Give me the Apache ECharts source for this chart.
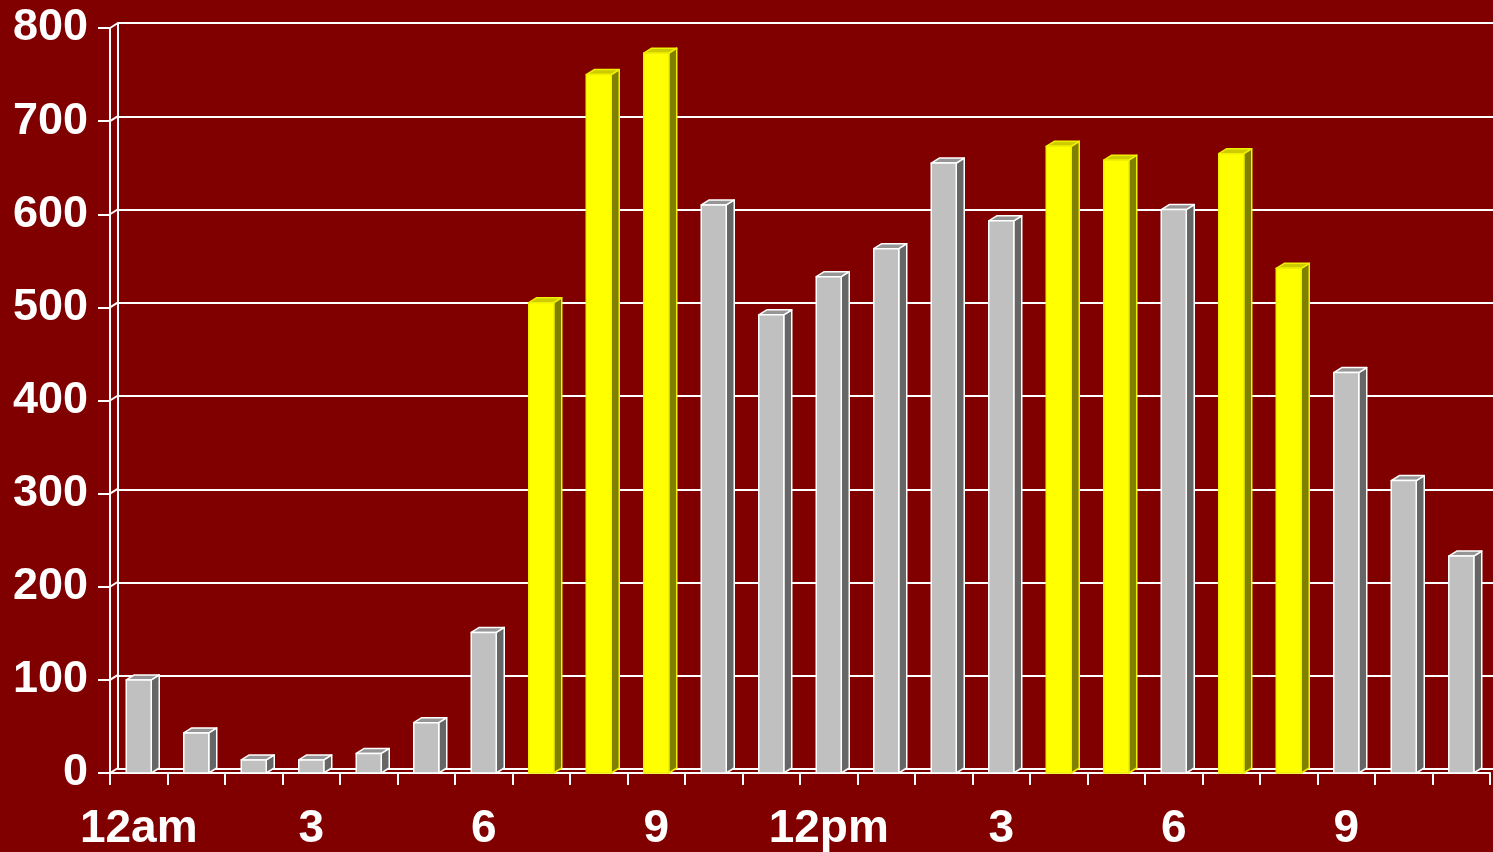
<!DOCTYPE html>
<html>
<head>
<meta charset="utf-8">
<script src="https://cdn.jsdelivr.net/npm/echarts@6/dist/echarts.min.js"></script>
<style>
  html, body { margin: 0; padding: 0; background: #800000; }
  #chart { width: 1493px; height: 852px; }
</style>
</head>
<body>
<div id="chart"></div>
<script>
// hourly counts, 12am .. 11pm
var hours = ['0', '1', '2', '3', '4', '5', '6', '7', '8', '9', '10', '11',
             '12', '13', '14', '15', '16', '17', '18', '19', '20', '21', '22', '23'];
var hourLabels = ['12am', '', '', '3', '', '', '6', '', '', '9', '', '',
                  '12pm', '', '', '3', '', '', '6', '', '', '9', '', ''];
var counts = [100, 43, 14, 14, 21, 54, 151, 505, 750, 773, 610, 492,
              533, 563, 655, 593, 673, 658, 605, 665, 542, 430, 314, 233];
// 1 = yellow (peak) bar
var peak = [0, 0, 0, 0, 0, 0, 0, 1, 1, 1, 0, 0,
            0, 0, 0, 0, 1, 1, 0, 1, 1, 0, 0, 0];
var yTicks = [0, 100, 200, 300, 400, 500, 600, 700, 800];

var DX = 8, DY = -5;   // depth offset of the 3d look
var BAR_W = 25;

var gray = { front: '#c0c0c0', top: '#969696', side: '#666666', line: '#ffffff' };
var yellow = { front: '#ffff00', top: '#cccc00', side: '#808000', line: '#f0f000' };

var chart = echarts.init(document.getElementById('chart'));

function renderBar(params, api) {
    var i = api.value(0);
    var top = api.coord([i, api.value(1)]);
    var base = api.coord([i, 0]);
    var c = peak[i] ? yellow : gray;
    var l = top[0] - BAR_W / 2, r = top[0] + BAR_W / 2;
    var t = top[1], b = base[1];
    var stroke = { stroke: c.line, lineWidth: 1.5, lineJoin: 'round' };
    return {
        type: 'group',
        children: [
            {
                type: 'polygon',
                shape: { points: [[r, t], [r + DX, t + DY], [r + DX, b + DY], [r, b]] },
                style: Object.assign({ fill: c.side }, stroke)
            },
            {
                type: 'polygon',
                shape: { points: [[l, t], [l + DX, t + DY], [r + DX, t + DY], [r, t]] },
                style: Object.assign({ fill: c.top }, stroke)
            },
            {
                type: 'rect',
                shape: { x: l, y: t, width: BAR_W, height: b - t },
                style: Object.assign({ fill: c.front }, stroke)
            }
        ]
    };
}

// little diagonals joining the front axis to the back wall
function renderConnector(params, api) {
    var p = api.coord([0, api.value(0)]);
    var x0 = params.coordSys.x;
    return {
        type: 'line',
        shape: { x1: x0, y1: p[1], x2: x0 + DX, y2: p[1] + DY },
        style: { stroke: '#ffffff', lineWidth: 2 }
    };
}

var option = {
    backgroundColor: '#800000',
    animation: false,
    grid: [
        { left: 110, right: 3, top: 28, bottom: 78 },
        { left: 110 + DX, right: 0, top: 28 + DY, bottom: 78 - DY }
    ],
    xAxis: [
        {
            type: 'category',
            gridIndex: 0,
            data: hours,
            axisLine: { lineStyle: { color: '#ffffff', width: 2 } },
            axisTick: { show: true, interval: 0, length: 12, lineStyle: { color: '#ffffff', width: 2 } },
            axisLabel: {
                interval: 0,
                margin: 33,
                color: '#ffffff',
                fontFamily: 'Liberation Sans, Arial, sans-serif',
                fontWeight: 'bold',
                fontSize: 46,
                formatter: function (v, idx) { return hourLabels[idx]; }
            }
        },
        {
            type: 'category',
            gridIndex: 1,
            data: hours,
            show: false
        }
    ],
    yAxis: [
        {
            type: 'value',
            gridIndex: 0,
            min: 0,
            max: 800,
            interval: 100,
            axisLine: { show: true, lineStyle: { color: '#ffffff', width: 2 } },
            axisTick: { show: true, length: 12, lineStyle: { color: '#ffffff', width: 2 } },
            splitLine: { show: false },
            axisLabel: {
                margin: 22,
                color: '#ffffff',
                fontFamily: 'Liberation Sans, Arial, sans-serif',
                fontWeight: 'bold',
                fontSize: 45
            }
        },
        {
            type: 'value',
            gridIndex: 1,
            min: 0,
            max: 800,
            interval: 100,
            axisLine: { show: true, lineStyle: { color: '#ffffff', width: 2 } },
            axisTick: { show: false },
            axisLabel: { show: false },
            splitLine: { show: true, lineStyle: { color: '#ffffff', width: 2 } }
        }
    ],
    series: [
        {
            type: 'custom',
            xAxisIndex: 0,
            yAxisIndex: 0,
            renderItem: renderConnector,
            data: yTicks.map(function (v) { return [v]; }),
            encode: { y: 0 },
            z: 1
        },
        {
            type: 'custom',
            xAxisIndex: 0,
            yAxisIndex: 0,
            renderItem: renderBar,
            data: counts.map(function (v, i) { return [i, v]; }),
            encode: { x: 0, y: 1 },
            z: 3
        }
    ]
};

chart.setOption(option);
</script>
</body>
</html>
